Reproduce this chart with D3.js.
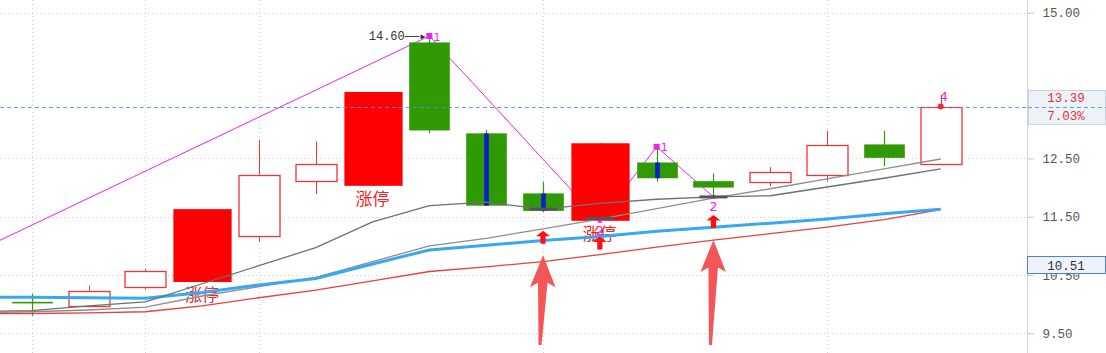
<!DOCTYPE html>
<html>
<head>
<meta charset="utf-8">
<script src="https://cdn.jsdelivr.net/npm/d3@7"></script>
<style>
  html, body { margin: 0; padding: 0; background: #fff; }
  svg { display: block; }
</style>
</head>
<body>
<svg id="chart" width="1106" height="353"></svg>
<script>
// ---- daily bars (17 sessions) ----
const days   = d3.range(17);
const opens  = [10.04, 9.98, 10.30, 10.38, 11.18, 12.10, 12.03, 14.49, 12.93, 11.90, 11.43, 12.43, 12.11, 12.08, 12.21, 12.74, 12.42];
const highs  = [10.18, 10.32, 10.60, 11.63, 12.82, 12.79, 13.64, 14.60, 12.99, 12.10, 12.76, 12.70, 12.24, 12.35, 12.97, 12.97, 13.59];
const lows   = [ 9.80,  9.98, 10.25, 10.38, 11.07, 11.89, 12.03, 12.93, 11.69, 11.58, 11.43, 12.10, 11.84, 12.02, 12.10, 12.37, 12.42];
const closes = [10.02, 10.23, 10.57, 11.63, 12.22, 12.40, 13.64, 12.98, 11.69, 11.60, 12.76, 12.16, 12.00, 12.26, 12.73, 12.51, 13.39];

// sessions closing at the daily limit, and sessions with a highlighted core
const limitUpDays  = [3, 6, 10];
const coreDays     = [8, 9, 11];

// ---- averages (first value belongs to the session before the window) ----
const maDays  = d3.range(-1, 17);
const maShort = [9.87, 9.89, 9.97, 10.04, 10.35, 10.66, 10.97, 11.41, 11.69, 11.75, 11.63, 11.73, 11.80, 11.84, 11.86, 12.01, 12.16, 12.32];
const maMid   = [9.85, 9.87, 9.90, 9.95, 10.14, 10.30, 10.46, 10.73, 11.00, 11.13, 11.29, 11.46, 11.64, 11.82, 11.98, 12.15, 12.32, 12.49];
const maLong  = [10.12, 10.12, 10.11, 10.10, 10.20, 10.33, 10.44, 10.69, 10.93, 11.01, 11.09, 11.16, 11.25, 11.32, 11.39, 11.46, 11.55, 11.63];
const maSlow  = [9.84, 9.84, 9.85, 9.87, 9.97, 10.11, 10.24, 10.40, 10.56, 10.64, 10.73, 10.85, 10.98, 11.10, 11.21, 11.32, 11.45, 11.62];

// ---- swing points ----
const pivotDays   = [-4, 7, 10, 11, 12];
const pivotValues = [9.50, 14.60, 11.43, 12.70, 11.84];
const pivotLabels = ["", "1", "2", "1", "2"];
const peakDay = 16, peakValue = 13.59, peakLabel = "4";

// ---- support ticks and buy arrows ----
const supportDays   = [9, 10, 12];
const supportValues = [11.63, 11.47, 11.84];
const bigArrowDays  = [9, 12];
const bigArrowTips  = [10.84, 11.10];
const bigArrowBase  = 9.30;
const smallArrowDays = [9, 10, 12];
const smallArrowTips = [11.26, 11.16, 11.53];

// ---- axis ----
const yTicks   = [15.00, 12.50, 11.50, 10.50, 9.50];
const gridDays = [0, 2, 4, 9, 14];
const lastPrice = 13.39, lastChange = "7.03%";
const markPrice = 10.51;
const highNote = "14.60";

// ---------------------------------------------------------------
const W = 1106, H = 353, plotRight = 1027;
const svg = d3.select("#chart");
const x = d3.scaleLinear().domain([0, 16]).range([31.7, 940.7]);
const y = d3.scaleLinear().domain([9.5, 15]).range([333.3, 12.7]);
const step = x(1) - x(0);
const mono = "'Liberation Mono', 'DejaVu Sans Mono', monospace";
const cjk = "'Noto Sans CJK SC', 'Noto Sans', sans-serif";
const magenta = "#ee22ee";
const guideBlue = "#3f93e0";
const upRed = "#ee3535", limitRed = "#ff0000", downGreen = "#2f9a03";

svg.append("defs").append("clipPath").attr("id", "plot")
  .append("rect").attr("x", 0).attr("y", 0).attr("width", plotRight).attr("height", H);

const plot = svg.append("g").attr("clip-path", "url(#plot)");

// grid
plot.append("g").selectAll("line").data(yTicks).join("line")
  .attr("x1", 0).attr("x2", plotRight)
  .attr("y1", d => Math.round(y(d)) + 0.5).attr("y2", d => Math.round(y(d)) + 0.5)
  .attr("stroke", "#cfcfcf").attr("stroke-dasharray", "1,3");
plot.append("g").selectAll("line").data(gridDays).join("line")
  .attr("x1", d => Math.round(x(d)) + 0.5).attr("x2", d => Math.round(x(d)) + 0.5)
  .attr("y1", 0).attr("y2", H)
  .attr("stroke", "#cfcfcf").attr("stroke-dasharray", "1,3");

// last price guide
const guideY = Math.round(y(lastPrice)) + 0.5;
svg.append("line")
  .attr("x1", 0).attr("x2", W).attr("y1", guideY).attr("y2", guideY)
  .attr("stroke", guideBlue).attr("stroke-opacity", 0.85).attr("stroke-dasharray", "4,3");

// swing line (behind the bars)
const zig = d3.line().x(d => x(d[0])).y(d => y(d[1]));
plot.append("path")
  .attr("d", zig(pivotDays.map((d, i) => [d, pivotValues[i]])))
  .attr("fill", "none").attr("stroke", magenta).attr("stroke-width", 1);

// candles
const bars = plot.append("g");
days.forEach(i => {
  const cx = Math.round(x(i)) + 0.5;
  const o = opens[i], c = closes[i];
  const limit = limitUpDays.includes(i);
  const up = c >= o;
  const w = limit ? step * 1.025 : step * 0.715;
  const top = y(Math.max(o, c)), bot = y(Math.min(o, c));
  if (limit) {
    bars.append("line").attr("x1", cx).attr("x2", cx).attr("y1", y(highs[i])).attr("y2", y(lows[i]))
      .attr("stroke", limitRed);
    bars.append("rect").attr("x", cx - w / 2).attr("y", top).attr("width", w).attr("height", Math.max(1, bot - top))
      .attr("fill", limitRed);
  } else if (up) {
    bars.append("line").attr("x1", cx).attr("x2", cx).attr("y1", y(highs[i])).attr("y2", top).attr("stroke", upRed);
    bars.append("line").attr("x1", cx).attr("x2", cx).attr("y1", bot).attr("y2", y(lows[i])).attr("stroke", upRed);
    bars.append("rect").attr("x", Math.round(cx - w / 2)).attr("y", Math.round(top) + 0.5)
      .attr("width", Math.round(w)).attr("height", Math.max(1, Math.round(bot - top)))
      .attr("fill", "#fff").attr("stroke", upRed).attr("stroke-width", 1.3);
  } else {
    bars.append("line").attr("x1", cx).attr("x2", cx).attr("y1", y(highs[i])).attr("y2", y(lows[i]))
      .attr("stroke", downGreen).attr("stroke-width", 1.2);
    bars.append("rect").attr("x", cx - w / 2).attr("y", top).attr("width", w).attr("height", Math.max(1.6, bot - top))
      .attr("fill", downGreen);
    if (coreDays.includes(i)) {
      bars.append("rect").attr("x", cx - 2.3).attr("y", top).attr("width", 4.6).attr("height", bot - top)
        .attr("fill", "#0a1ecf");
    }
  }
});

// swing counts below the lows sit under the captions
pivotDays.forEach((d, i) => {
  if (pivotLabels[i] !== "2") return;
  const px = x(d), py = y(pivotValues[i]);
  plot.append("rect").attr("x", px - 2).attr("y", py - 2).attr("width", 4).attr("height", 4).attr("fill", magenta);
  plot.append("text").attr("x", px).attr("y", py + 14)
    .attr("text-anchor", "middle").attr("font-family", "'DejaVu Sans', sans-serif").attr("font-size", 13)
    .attr("fill", magenta).text(pivotLabels[i]);
});

// limit-up captions
plot.append("g").selectAll("text").data(limitUpDays).join("text")
  .attr("x", d => x(d)).attr("y", d => y(lows[d]) + 19)
  .attr("text-anchor", "middle").attr("font-family", cjk).attr("font-size", 17)
  .attr("fill", "#f02424").text("涨停");

// averages
const avg = d3.line().x((d, i) => x(maDays[i])).y(d => y(d));
[[maSlow, "#e8413c", 1.3], [maMid, "#8e8e8e", 1.3], [maLong, "#38a8f0", 3], [maShort, "#707070", 1.3]]
  .forEach(([vals, col, sw]) => {
    plot.append("path").attr("d", avg(vals)).attr("fill", "none")
      .attr("stroke", col).attr("stroke-width", sw).attr("stroke-linejoin", "round");
  });

// support ticks
plot.append("g").selectAll("line").data(supportDays).join("line")
  .attr("x1", d => x(d) - 14).attr("x2", d => x(d) + 14)
  .attr("y1", (d, i) => y(supportValues[i])).attr("y2", (d, i) => y(supportValues[i]))
  .attr("stroke", "#555").attr("stroke-width", 3);

// swing highs
pivotDays.forEach((d, i) => {
  if (pivotLabels[i] !== "1") return;
  const px = x(d), py = y(pivotValues[i]);
  svg.append("rect").attr("x", px - 3).attr("y", py - 3).attr("width", 6).attr("height", 6).attr("fill", magenta);
  svg.append("text").attr("x", px + 4).attr("y", py + 4.5)
    .attr("font-family", "'DejaVu Sans', sans-serif").attr("font-size", 11).attr("fill", magenta).text(pivotLabels[i]);
});
svg.append("text").attr("x", x(peakDay) + 3).attr("y", y(peakValue) + 6.5)
  .attr("text-anchor", "middle").attr("font-family", "'DejaVu Sans', sans-serif").attr("font-size", 12)
  .attr("fill", magenta).text(peakLabel);
svg.append("circle").attr("cx", x(peakDay)).attr("cy", y(lastPrice)).attr("r", 3).attr("fill", "#e83030");

// high annotation with pointer
const hx = x(7), hy = y(highs[7]);
svg.append("text").attr("x", hx - 3).attr("y", hy + 4.3).attr("text-anchor", "end")
  .attr("font-family", mono).attr("font-size", 12).attr("fill", "#333")
  .text(highNote + "\u2014\u2014\u25B8");

// buy arrows
const bigArrow = (cx, tip, base) => {
  const L = base - tip;
  return [[0, 0], [12.5, 32], [4.5, 27.5], [-1.5, L], [-4.5, L], [-5, 27.5], [-13, 32]]
    .map(p => [cx + p[0], tip + p[1]]);
};
svg.append("g").selectAll("polygon").data(bigArrowDays).join("polygon")
  .attr("points", (d, i) => bigArrow(x(d), y(bigArrowTips[i]), y(bigArrowBase)).join(" "))
  .attr("fill", "#f45656");
const smallArrow = (cx, tip) =>
  [[0, 0], [7, 5.5], [2.6, 5.5], [2.6, 13], [-2.6, 13], [-2.6, 5.5], [-7, 5.5]].map(p => [cx + p[0], tip + p[1]]);
svg.append("g").selectAll("polygon").data(smallArrowDays).join("polygon")
  .attr("points", (d, i) => smallArrow(x(d), y(smallArrowTips[i])).join(" "))
  .attr("fill", "#ff1010");

// price axis
const axis = svg.append("g").attr("transform", `translate(${plotRight + 0.5},0)`)
  .call(d3.axisRight(y).tickValues(yTicks).tickFormat(d3.format(".2f")).tickSize(6).tickPadding(9));
axis.select(".domain").attr("stroke", "#d2d2d2").attr("d", `M0,0V${H}`);
axis.selectAll(".tick line").attr("stroke", "#c4c4c4");
axis.selectAll(".tick text").attr("font-family", mono).attr("font-size", 12.5).attr("fill", "#555");

// last price box
const ly = y(lastPrice);
svg.append("rect").attr("x", plotRight + 1.5).attr("y", Math.round(ly) - 16.5).attr("width", W - plotRight - 2).attr("height", 34)
  .attr("fill", "#edf2f9").attr("stroke", "#c9d4e4");
svg.append("line").attr("x1", plotRight + 1).attr("x2", W).attr("y1", guideY).attr("y2", guideY)
  .attr("stroke", guideBlue).attr("stroke-opacity", 0.85).attr("stroke-dasharray", "4,3");
svg.append("text").attr("x", 1066).attr("y", ly - 4.5).attr("text-anchor", "middle")
  .attr("font-family", mono).attr("font-size", 12.5).attr("fill", "#e63232").text(d3.format(".2f")(lastPrice));
svg.append("text").attr("x", 1066).attr("y", ly + 13.5).attr("text-anchor", "middle")
  .attr("font-family", mono).attr("font-size", 12.5).attr("fill", "#e63232").text(lastChange);

// marked price box
const my = y(markPrice);
svg.append("rect").attr("x", plotRight + 0.5).attr("y", Math.round(my) - 17.5).attr("width", W - plotRight - 1).attr("height", 17)
  .attr("fill", "#eef3fb").attr("stroke", "#4f80d0");
svg.append("text").attr("x", 1066).attr("y", my - 4.5).attr("text-anchor", "middle")
  .attr("font-family", mono).attr("font-size", 12.5).attr("fill", "#333").text(d3.format(".2f")(markPrice));
</script>
</body>
</html>
